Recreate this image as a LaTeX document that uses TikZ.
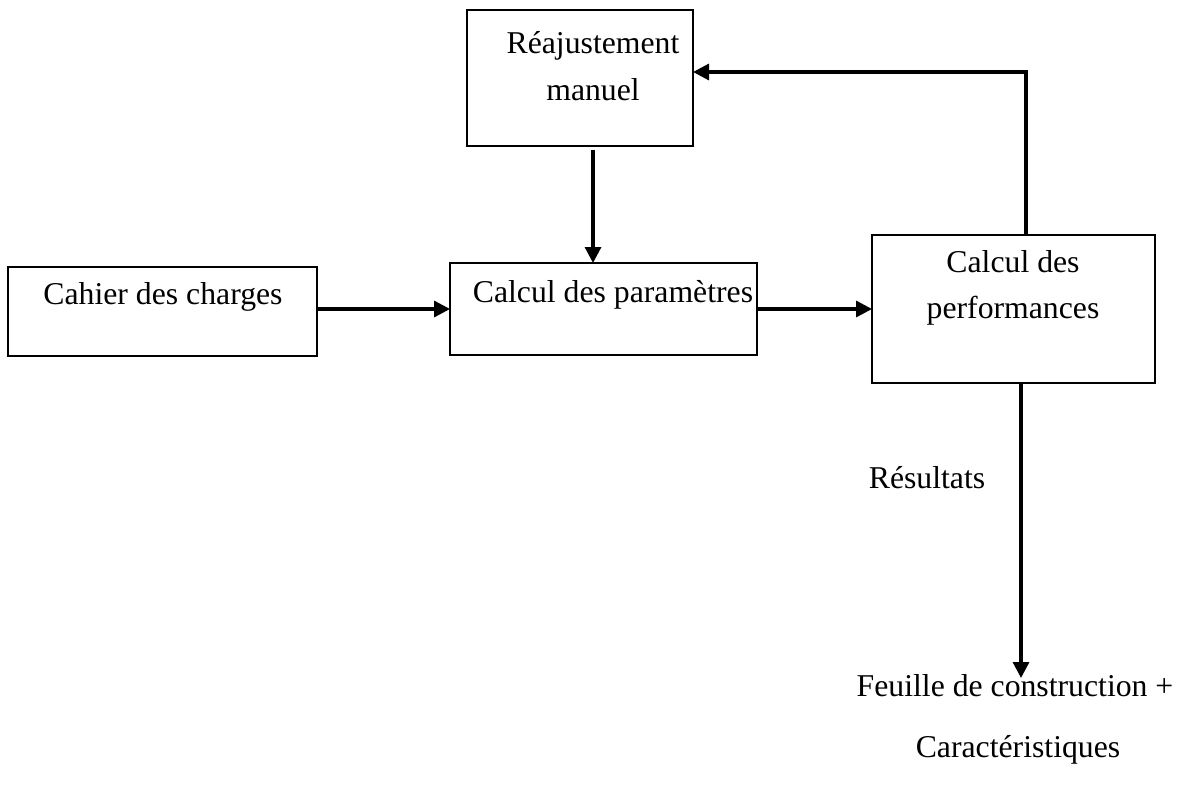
\documentclass[tikz,border=0pt]{standalone}
\usepackage{fontspec}
\setmainfont{Liberation Serif}
\usetikzlibrary{arrows.meta,calc}
\begin{document}
\begin{tikzpicture}[x=0.375pt,y=-0.375pt,
  boxnode/.style={draw,line width=0.9pt,rectangle,inner sep=0pt,outer sep=0pt},
  txt/.style={font=\fontsize{11.9}{17.4}\selectfont,align=center,inner sep=0pt},
  arr/.style={line width=1.2pt,-{Triangle[length=6pt,width=6pt]}}]
\useasboundingbox (0,0) rectangle (1185,789);
% boxes
\node[boxnode,minimum width=84.75pt,minimum height=51pt] (A) at (580,78) {};
\node[boxnode,minimum width=115.9pt,minimum height=33.4pt] (B) at (162.5,311.5) {};
\node[boxnode,minimum width=115.1pt,minimum height=34.5pt] (C) at (603.5,309) {};
\node[boxnode,minimum width=106.1pt,minimum height=55.5pt] (D) at (1013.5,309) {};
% texts
\node[txt] (tA) at (593,66) {Réajustement\\manuel};
\node[txt] (tB) at (163,297) {Cahier des charges};
\node[txt] (tC) at (613,295) {Calcul des paramètres};
\node[txt] (tD) at (1013,288) {Calcul des\\performances};
\node[txt] (R) at (927,478) {Résultats};
\node[txt] (F) at (1015,686) {Feuille de construction +};
\node[txt] (K) at (1018,750) {Caractéristiques};
% connectors
\draw[arr] (B.east |- C.west) -- (C.west);
\draw[arr] (C.east) -- (D.west);
\draw[arr] ($(A.south)+(13,4)$) -- ($(A.south |- C.north)+(13,0)$);
\draw[arr] ($(D.north)+(12.5,0)$) |- ($(A.east)+(0,-6)$);
\coordinate (fend) at (1021,678);
\draw[arr] ($(D.south)+(7.5,0)$) -- (fend);
\end{tikzpicture}
\end{document}
